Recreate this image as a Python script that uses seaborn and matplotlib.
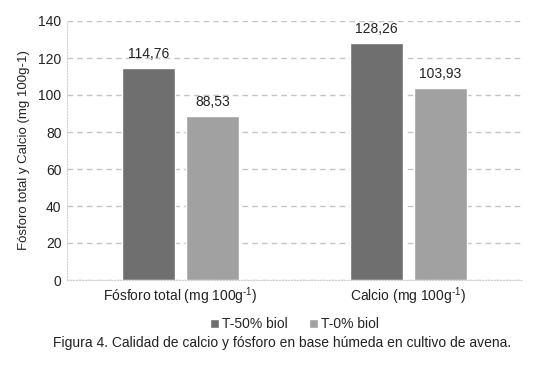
import pandas as pd
import seaborn as sns
import matplotlib.pyplot as plt

categories = ["Fósforo total (mg 100g$^{\\text{-}1}$)", "Calcio (mg 100g$^{\\text{-}1}$)"]
treatments = ["T-50% biol", "T-0% biol"]
t50_values = [114.76, 128.26]
t0_values = [88.53, 103.93]

df = pd.DataFrame({
    "categoria": categories * 2,
    "tratamiento": [treatments[0]] * 2 + [treatments[1]] * 2,
    "valor": t50_values + t0_values,
})

sns.set_style("white")
plt.rcParams["font.family"] = ["Liberation Sans", "DejaVu Sans"]
plt.rcParams["mathtext.fontset"] = "custom"
plt.rcParams["mathtext.rm"] = "Liberation Sans"
plt.rcParams["mathtext.it"] = "Liberation Sans"

fig = plt.figure(figsize=(5.37, 3.69), dpi=100)
ax = fig.add_axes([67 / 537, 1 - 280 / 369, 455 / 537, 259 / 369])
sns.barplot(data=df, x="categoria", y="valor", hue="tratamiento",
            palette=["#6f6f6f", "#a1a1a1"], width=0.56, gap=0.17,
            saturation=1, ax=ax, legend=True)

for cont in ax.containers:
    ax.bar_label(cont, labels=[f"{v:.2f}".replace(".", ",") for v in cont.datavalues],
                 padding=5, fontsize=10, color="#222222")

ax.set_ylim(0, 140)
ax.set_yticks(range(0, 141, 20))
ax.set_xlim(-0.5, 1.5)
ax.yaxis.grid(True, linestyle=(0, (4, 3)), color="#c4c4c4", linewidth=1)
ax.set_axisbelow(True)
for s in ["top", "right"]:
    ax.spines[s].set_visible(False)
for s in ["left", "bottom"]:
    ax.spines[s].set_color("#d0d0d0")
    ax.spines[s].set_linestyle(":")
ax.tick_params(axis="both", length=0, labelsize=10, colors="#222222", pad=4)
ax.set_xlabel("")
ax.set_ylabel("Fósforo total y Calcio (mg 100g-1)", fontsize=9.5, color="#222222", labelpad=6)

h, l = ax.get_legend_handles_labels()
ax.legend(h, l, loc="upper center", bbox_to_anchor=(0.5, -0.095), ncol=2,
          frameon=False, fontsize=10, handlelength=0.6, handleheight=0.6,
          handletextpad=0.2, columnspacing=1.6)

fig.text(282 / 537, 1 - 343 / 369, "Figura 4. Calidad de calcio y fósforo en base húmeda en cultivo de avena.",
         ha="center", va="center", fontsize=10, color="#222222")

fig.savefig("out.png", dpi=100)
